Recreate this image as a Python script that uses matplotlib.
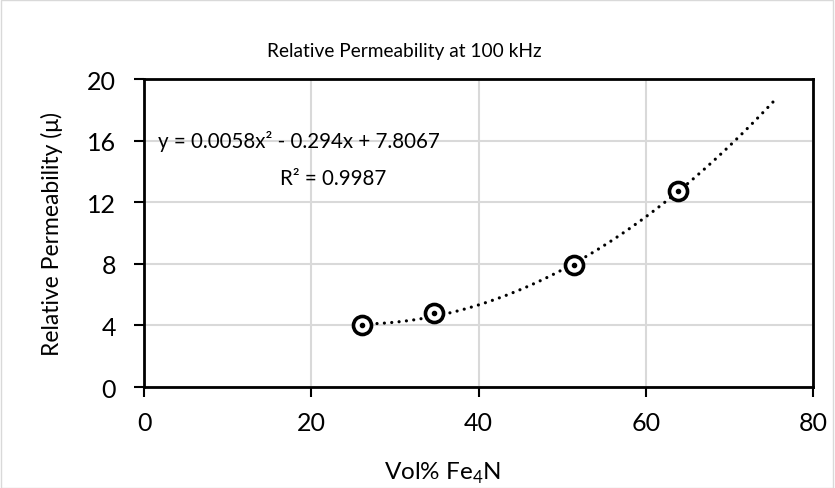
import numpy as np
import matplotlib
matplotlib.use('Agg')
import matplotlib.pyplot as plt
from matplotlib.patches import Rectangle

plt.rcParams['font.family'] = ['Lato', 'DejaVu Sans']
plt.rcParams['mathtext.fontset'] = 'custom'
plt.rcParams['mathtext.rm'] = 'Lato'

# data
vol_pct = [26.1, 34.7, 51.4, 63.9]
perm = [4.05, 4.78, 7.92, 12.75]

# polynomial trendline (as shown on chart)
coef = [0.0058, -0.294, 7.8067]
trend_x_end = 75.3

W, H = 835, 489
fig = plt.figure(figsize=(W / 100, H / 100), dpi=100)
fig.patches.append(Rectangle((0.001, 0.001), 0.997, 0.997, transform=fig.transFigure,
                             fill=False, edgecolor='#d9d9d9', lw=1))
ax = fig.add_axes([144 / W, 1 - 388 / H, (813 - 144) / W, (388 - 80) / H])

xt = np.linspace(vol_pct[0], trend_x_end, 200)
ax.plot(xt, np.polyval(coef, xt), color='black', lw=2.3,
        linestyle=(0, (0.01, 2.3)), dash_capstyle='round', zorder=3)
ax.plot(vol_pct, perm, 'o', ms=13, mfc='white', mec='black', mew=2.6, zorder=4)
ax.plot(vol_pct, perm, 'o', ms=3, color='black', zorder=5)

ax.set_xlim(0, 80)
ax.set_ylim(0, 20)
ax.set_xticks(range(0, 81, 20))
ax.set_yticks(range(0, 21, 4))
ax.grid(True, color='#d9d9d9', lw=1.5)
ax.set_axisbelow(True)
for s in ax.spines.values():
    s.set_linewidth(2)
ax.tick_params(direction='out', length=7, width=1.5, labelsize=18)
ax.tick_params(axis='x', pad=10)
ax.tick_params(axis='y', pad=13)

fig.text(443 / W, 1 - 480 / H, 'Vol% Fe$_{4}$N', fontsize=17.5, ha='center', va='baseline')
fig.text(52 / W, 1 - 234 / H, 'Relative Permeability (\u03bc)', fontsize=16.5,
         rotation=90, ha='center', va='center')
fig.text(404 / W, 1 - 57 / H, 'Relative Permeability at 100 kHz', fontsize=13.8,
         ha='center', va='baseline')

ax.text(1.7, 15.6, 'y = 0.0058x\u00b2 - 0.294x + 7.8067', fontsize=14.8,
        ha='left', va='baseline')
ax.text(16.3, 13.15, 'R\u00b2 = 0.9987', fontsize=14.8, ha='left', va='baseline')

plt.savefig('out.png', dpi=100)
